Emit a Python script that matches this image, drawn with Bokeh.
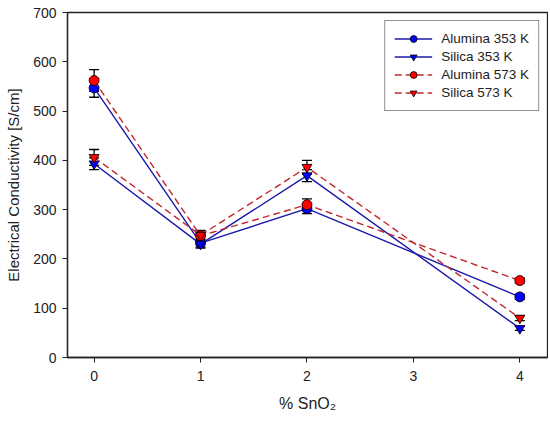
from bokeh.plotting import figure
from bokeh.models import Legend, LegendItem, Whisker, TeeHead, ColumnDataSource, Range1d
from bokeh.embed import file_html
from bokeh.resources import INLINE

sno2 = [0, 1, 2, 4]
alumina_353 = [547, 232, 302, 123]
silica_353 = [393, 230, 369, 59]
alumina_573 = [562, 247, 310, 156]
silica_573 = [406, 248, 386, 80]
err_alumina_353 = [19, 8, 10, 5]
err_silica_353 = [12, 8, 12, 4]
err_alumina_573 = [22, 10, 12, 5]
err_silica_573 = [16, 10, 14, 5]

FONT = "Liberation Sans"

p = figure(width=548, height=420, output_backend="svg", toolbar_location=None,
           x_range=Range1d(-0.25, 4.26), y_range=Range1d(0, 700),
           min_border_left=67, min_border_right=1, min_border_top=12, min_border_bottom=63)
p.grid.visible = False
p.outline_line_color = "#222222"
p.outline_line_width = 1.3

for ax in (p.xaxis, p.yaxis):
    ax.axis_line_color = "#222222"
    ax.axis_line_width = 1.3
    ax.major_tick_line_color = "#222222"
    ax.major_tick_out = 5
    ax.major_tick_in = 0
    ax.minor_tick_line_color = None
    ax.major_label_text_font = FONT
    ax.major_label_text_font_size = "14px"
    ax.major_label_text_color = "#222222"
    ax.axis_label_text_font = FONT
    ax.axis_label_text_font_size = "15px"
    ax.axis_label_text_font_style = "normal"
    ax.axis_label_text_color = "#222222"

p.xaxis.ticker = [0, 1, 2, 3, 4]
p.yaxis.ticker = list(range(0, 701, 100))
p.xaxis.axis_label = "% SnO₂"
p.xaxis.axis_label_text_font_size = "16px"
p.yaxis.axis_label = "Electrical Conductivity [S/cm]"
p.xaxis.major_label_standoff = 8
p.xaxis.axis_label_standoff = 11
p.yaxis.major_label_standoff = 6
p.yaxis.axis_label_standoff = 8

series = [
    ("Alumina 353 K", alumina_353, err_alumina_353, "#1a1aaa", "solid", "circle", "#0000ff"),
    ("Silica 353 K", silica_353, err_silica_353, "#1a1aaa", "solid", "inverted_triangle", "#0000ff"),
    ("Alumina 573 K", alumina_573, err_alumina_573, "#c0282c", "7 4", "circle", "#ff0000"),
    ("Silica 573 K", silica_573, err_silica_573, "#c0282c", "7 4", "inverted_triangle", "#ff0000"),
]

lines = []
for name, ys, errs, lc, dash, mk, fc in series:
    src = ColumnDataSource(dict(
        x=sno2, y=ys,
        lo=[a - b for a, b in zip(ys, errs)],
        hi=[a + b for a, b in zip(ys, errs)],
    ))
    ln = p.line("x", "y", source=src, line_color=lc, line_width=1.4, line_dash=dash)
    wh = Whisker(base="x", lower="lo", upper="hi", source=src, line_color="black", line_width=1.3,
                 upper_head=TeeHead(size=10, line_color="black", line_width=1.3),
                 lower_head=TeeHead(size=10, line_color="black", line_width=1.3))
    p.add_layout(wh)
    sc = p.scatter("x", "y", source=src, marker=mk, size=10, fill_color=fc,
                   line_color="black", line_width=0.8)
    lines.append((name, ln, sc))

legend = Legend(items=[LegendItem(label=n, renderers=[l, s]) for n, l, s in lines],
                location="top_right", label_text_font=FONT, label_text_font_size="13.5px",
                label_text_color="#222222", glyph_width=38, glyph_height=17, label_height=17,
                label_standoff=9, spacing=1, padding=9, margin=8,
                border_line_color="#222222", border_line_width=1.3, background_fill_alpha=1)
p.add_layout(legend)

open("out.html", "w").write(file_html(p, INLINE))
